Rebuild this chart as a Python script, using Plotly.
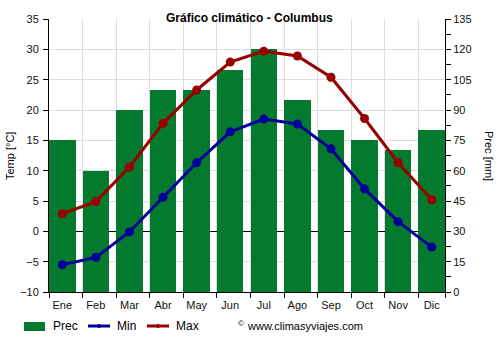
import plotly.graph_objects as go

# Monthly climate data for Columbus
months = ["Ene", "Feb", "Mar", "Abr", "May", "Jun", "Jul", "Ago", "Sep", "Oct", "Nov", "Dic"]
prec_mm = [75, 60, 90, 100, 100, 110, 120, 95, 80, 75, 70, 80]
temp_min = [-5.5, -4.3, -0.1, 5.6, 11.3, 16.4, 18.5, 17.7, 13.6, 7.0, 1.6, -2.6]
temp_max = [2.9, 4.9, 10.6, 17.8, 23.3, 27.9, 29.7, 28.9, 25.4, 18.6, 11.3, 5.2]

GREEN = "#047a2f"
BLUE = "#000099"
RED = "#990000"
GRID = "#dcdcdc"
FONT = "Liberation Sans, Arial, sans-serif"

W, H = 500, 350
ML, MR, MT, MB = 49, 55, 19, 58
PW, PH = W - ML - MR, H - MT - MB

BAR_W = 0.79
half = BAR_W / 2
xpos = list(range(len(months)))
edges = [i - half for i in xpos] + [xpos[-1] + half]


def px(x):
    return (x - ML) / PW


def py(y):
    return (H - MB - y) / PH


fig = go.Figure()

fig.add_trace(go.Bar(
    x=xpos, y=prec_mm, name="Prec", width=BAR_W,
    marker=dict(color=GREEN, line=dict(width=0)),
    yaxis="y", showlegend=False,
))
fig.add_trace(go.Scatter(
    x=xpos, y=temp_min, name="Min", mode="lines+markers",
    line=dict(color=BLUE, width=3), marker=dict(color=BLUE, size=9),
    yaxis="y2", showlegend=False,
))
fig.add_trace(go.Scatter(
    x=xpos, y=temp_max, name="Max", mode="lines+markers",
    line=dict(color=RED, width=3), marker=dict(color=RED, size=9),
    yaxis="y2", showlegend=False,
))

fig.update_layout(
    width=W, height=H,
    margin=dict(l=ML, r=MR, t=MT, b=MB, pad=0),
    paper_bgcolor="white", plot_bgcolor="white",
    font=dict(family=FONT, size=11, color="#111111"),
    bargap=0,
    xaxis=dict(
        range=[-half, xpos[-1] + half],
        tickmode="array", tickvals=xpos, ticktext=months,
        ticks="", showgrid=False, zeroline=False,
        showline=True, linecolor="black", linewidth=1,
        ticklabelstandoff=3,
        minor=dict(tickmode="array", tickvals=edges, ticks="outside",
                   ticklen=5, tickcolor="black", showgrid=True,
                   gridcolor=GRID, gridwidth=1),
        fixedrange=True,
    ),
    yaxis=dict(
        side="right", range=[0, 135], tickmode="linear", tick0=0, dtick=15,
        showgrid=True, gridcolor=GRID, gridwidth=1, zeroline=False,
        showline=True, linecolor="black", linewidth=1,
        ticks="outside", ticklen=5, tickcolor="black",
        minor=dict(dtick=7.5, ticks="outside", ticklen=5, tickcolor="black",
                   showgrid=False),
    ),
    yaxis2=dict(
        overlaying="y", side="left", range=[-10, 35], tickmode="linear",
        tick0=-10, dtick=5, showgrid=False,
        zeroline=True, zerolinecolor="black", zerolinewidth=1,
        showline=True, linecolor="black", linewidth=1,
        ticks="outside", ticklen=5, tickcolor="black",
        ticklabelstandoff=2,
    ),
)

annotations = [
    dict(text="<b>Gráfico climático - Columbus</b>", x=px(249), y=py(18),
         font=dict(size=12, color="black")),
    dict(text="Temp [°C]", x=px(10), y=py(156), textangle=-90,
         font=dict(size=11, color="black")),
    dict(text="Prec [mm]", x=px(489), y=py(156), textangle=90,
         font=dict(size=11, color="black")),
    dict(text="Prec", x=px(51), y=py(326), xanchor="left",
         font=dict(size=12, color="black")),
    dict(text="Min", x=px(115), y=py(326), xanchor="left",
         font=dict(size=12, color="black")),
    dict(text="Max", x=px(174), y=py(326), xanchor="left",
         font=dict(size=12, color="black")),
    dict(text="©", x=px(236), y=py(323), xanchor="left",
         font=dict(size=8, color="black")),
    dict(text="www.climasyviajes.com", x=px(245), y=py(326), xanchor="left",
         font=dict(size=11, color="black")),
]
for a in annotations:
    a.setdefault("xanchor", "center")
    a.update(xref="paper", yref="paper", yanchor="middle", showarrow=False)
fig.update_layout(annotations=annotations)

shapes = [
    dict(type="rect", x0=px(24), x1=px(45), y0=py(322), y1=py(331),
         fillcolor=GREEN, line=dict(width=0)),
]
for x0, col in ((88, BLUE), (147, RED)):
    shapes.append(dict(type="line", x0=px(x0), x1=px(x0 + 22), y0=py(326), y1=py(326),
                       line=dict(color=col, width=3)))
    shapes.append(dict(type="circle", x0=px(x0 + 9), x1=px(x0 + 13),
                       y0=py(328), y1=py(324), fillcolor=col, line=dict(width=0)))
for s in shapes:
    s.update(xref="paper", yref="paper")
fig.update_layout(shapes=shapes)

fig.write_html("out.html", config=dict(displayModeBar=False))
